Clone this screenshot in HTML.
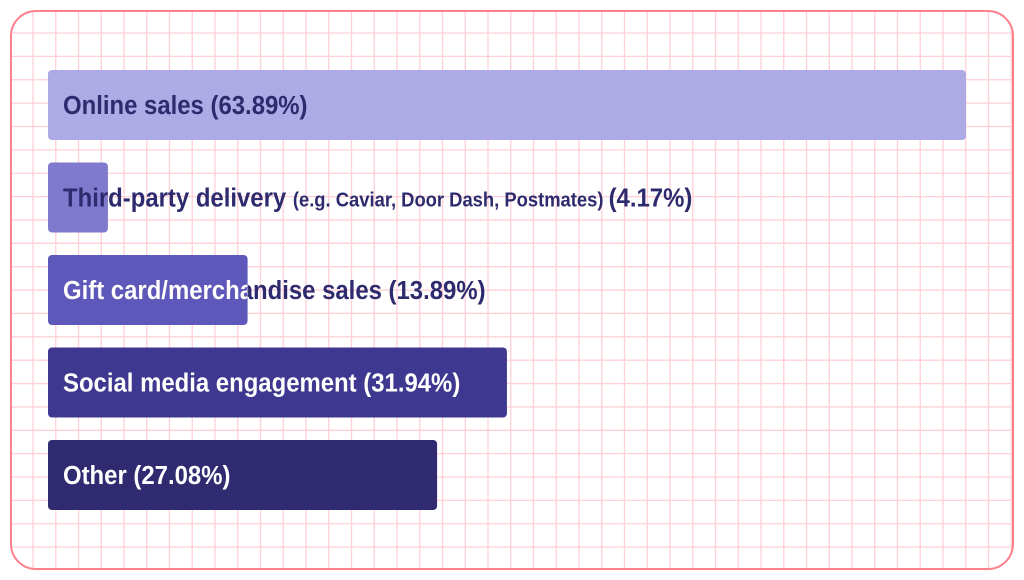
<!DOCTYPE html>
<html><head><meta charset="utf-8"><style>
html,body{margin:0;padding:0;background:#fff;}
svg{display:block;font-family:"Liberation Sans",sans-serif;font-weight:bold;}
</style></head><body>
<svg id="chart" width="1024" height="580" viewBox="0 0 1024 580" xmlns="http://www.w3.org/2000/svg">
<defs><clipPath id="frameClip"><rect x="11" y="11" width="1002" height="558" rx="25"/></clipPath></defs>
<g id="grid" clip-path="url(#frameClip)"></g>
<rect x="11" y="11" width="1002" height="558" rx="25" fill="none" stroke="#ff7f8a" stroke-width="2"/>
<g id="bars"></g>
</svg>
<script>
const categories = ["Online sales", "Third-party delivery", "Gift card/merchandise sales", "Social media engagement", "Other"];
const notes = ["", "(e.g. Caviar, Door Dash, Postmates)", "", "", ""];
const values = [63.89, 4.17, 13.89, 31.94, 27.08];
const colors = ["#adaae6", "#7f7acd", "#5f58bb", "#3f3890", "#302b70"];
const whiteText = [false, false, true, true, true];

const NS = "http://www.w3.org/2000/svg";
const svg = document.getElementById("chart");
const grid = document.getElementById("grid");
const barsG = document.getElementById("bars");
function mk(tag, attrs, parent){const e=document.createElementNS(NS,tag);for(const k in attrs)e.setAttribute(k,attrs[k]);parent.appendChild(e);return e;}
// grid
for(let x=33-22.75; x<1024; x+=22.75){
  const l=mk("line",{x1:x,y1:0,x2:x,y2:580,stroke:"#ffd0d6","stroke-width":1.3},grid);
  
  
}
for(let y=33-23.37; y<580; y+=23.37){
  const l=mk("line",{x1:0,y1:y,x2:1024,y2:y,stroke:"#ffd0d6","stroke-width":1.3},grid);
  
  
}
const x0 = 48, pxPer = 918/63.89;
const xScale = v => v*pxPer;
const yBand = i => 70 + i*92.5;
const barH = 70;
const dark = "#2e2a6e";

function addLabel(i, parent, fill){
  const t = mk("text",{x:63,y:yBand(i)+barH/2+9,fill:fill,"font-size":26},parent);
  
  
  const pct = "(" + values[i].toFixed(2) + "%)";
  if(notes[i]){
    const a=mk("tspan",{},t); a.textContent=categories[i]+" ";
    const b=mk("tspan",{"font-size":20},t); b.textContent=notes[i]+" ";
    const c=mk("tspan",{},t); c.textContent=pct;
  } else {
    t.textContent = categories[i]+" "+pct;
  }
  // approximate condensed look
  t.setAttribute("transform","translate(63 0) scale(0.92 1) translate(-63 0)");
  return t;
}

values.forEach((v,i)=>{
  const g = mk("g",{},barsG);
  
  
  const r = mk("rect",{x:x0,y:yBand(i),width:xScale(v),height:barH,rx:4,fill:colors[i]},g);
  
  
  addLabel(i,g,dark);
  if(whiteText[i]){
    const cp = mk("clipPath",{id:"clip"+i},g);
    mk("rect",{x:x0,y:yBand(i),width:xScale(v),height:barH},cp);
    const wg = mk("g",{"clip-path":"url(#clip"+i+")"},g);
    
    
    addLabel(i,wg,"#ffffff");
  }
});
</script>
</body></html>
